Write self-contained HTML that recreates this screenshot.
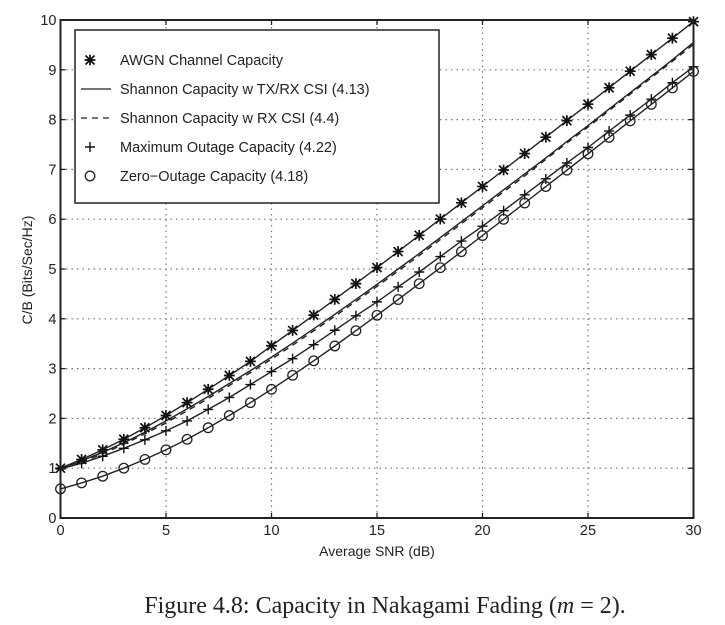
<!DOCTYPE html>
<html><head><meta charset="utf-8">
<style>
html,body{margin:0;padding:0;background:#fff;width:725px;height:625px;overflow:hidden}
svg{display:block}
text{font-family:"Liberation Sans",sans-serif;fill:#222}
</style></head>
<body>
<svg id="chart" width="725" height="625">
<g id="grid"></g>
<g id="series"></g>
<g id="axes"></g>
<text x="377" y="556" font-size="14" text-anchor="middle">Average SNR (dB)</text>
<text transform="translate(32,270) rotate(-90)" font-size="14" text-anchor="middle">C/B (Bits/Sec/Hz)</text>
<text x="385" y="613" font-size="24" text-anchor="middle" style="font-family:'Liberation Serif',serif">Figure 4.8: Capacity in Nakagami Fading (<tspan font-style="italic">m</tspan> = 2).</text>
<g id="legend">
<rect x="75" y="30" width="364" height="173" fill="#fff" stroke="#222" stroke-width="1.5"/>
<g><text x="120" y="65" font-size="14.5">AWGN Channel Capacity</text></g>
<g><line x1="81" y1="89" x2="111" y2="89" stroke="#222" stroke-width="1.3"/><text x="120" y="94" font-size="14.5">Shannon Capacity w TX/RX CSI (4.13)</text></g>
<g><line x1="81" y1="118" x2="111" y2="118" stroke="#222" stroke-width="1.3" stroke-dasharray="6,5"/><text x="120" y="123" font-size="14.5">Shannon Capacity w RX CSI (4.4)</text></g>
<g><text x="120" y="152" font-size="14.5">Maximum Outage Capacity (4.22)</text></g>
<g><text x="120" y="181" font-size="14.5">Zero−Outage Capacity (4.18)</text></g>
</g>
</svg>
<script>
const snrDb = [0,1,2,3,4,5,6,7,8,9,10,11,12,13,14,15,16,17,18,19,20,21,22,23,24,25,26,27,28,29,30];
const awgn = [1.00,1.176,1.369,1.581,1.812,2.058,2.317,2.585,2.862,3.145,3.459,3.766,4.074,4.390,4.707,5.027,5.350,5.676,6.003,6.329,6.658,6.988,7.318,7.647,7.979,8.309,8.640,8.972,9.304,9.635,9.967];
const txrx = [1.00,1.15,1.32,1.51,1.72,1.95,2.19,2.44,2.70,2.96,3.23,3.51,3.80,4.09,4.39,4.69,5.00,5.31,5.63,5.95,6.27,6.59,6.91,7.23,7.56,7.88,8.21,8.54,8.87,9.20,9.55];
const rx = [0.97,1.12,1.29,1.48,1.69,1.91,2.15,2.40,2.66,2.92,3.19,3.47,3.76,4.05,4.35,4.65,4.96,5.27,5.59,5.91,6.23,6.55,6.87,7.20,7.53,7.85,8.18,8.51,8.84,9.17,9.51];
const maxOut = [0.985,1.10,1.24,1.40,1.57,1.75,1.95,2.18,2.42,2.68,2.94,3.20,3.48,3.77,4.06,4.34,4.64,4.94,5.25,5.56,5.86,6.17,6.49,6.81,7.13,7.44,7.77,8.09,8.41,8.74,9.06];
const zeroOut = [0.585,0.705,0.839,1.0,1.176,1.369,1.580,1.812,2.058,2.316,2.585,2.866,3.156,3.454,3.761,4.071,4.386,4.705,5.026,5.348,5.672,5.998,6.325,6.655,6.984,7.313,7.643,7.974,8.305,8.636,8.967];
const xTicks = [0,5,10,15,20,25,30];
const yTicks = [0,1,2,3,4,5,6,7,8,9,10];

const NS='http://www.w3.org/2000/svg';
const X0=60.5,X1=693.5,Y0=518,Y1=20;
const sx=v=>X0+(v-0)/(30-0)*(X1-X0);
const sy=v=>Y0-(v-0)/(10-0)*(Y0-Y1);
function mk(tag,attrs,parent){const e=document.createElementNS(NS,tag);for(const k in attrs)e.setAttribute(k,attrs[k]);parent.appendChild(e);return e;}
const grid=document.getElementById('grid'),axes=document.getElementById('axes'),ser=document.getElementById('series');
xTicks.forEach(t=>{
  const x=sx(t);
  if(t>0&&t<30){const g=mk('line',{x1:x,y1:Y0,x2:x,y2:Y1,stroke:'#777','stroke-width':1.2,'stroke-dasharray':'1.5,4'},grid);
  
  }
  mk('line',{x1:x,y1:Y0,x2:x,y2:Y0-5,stroke:'#222','stroke-width':1.3},axes);
  mk('line',{x1:x,y1:Y1,x2:x,y2:Y1+5,stroke:'#222','stroke-width':1.3},axes);
  const tx=mk('text',{x:x,y:Y0+17,'font-size':14.5,'text-anchor':'middle'},axes);tx.textContent=t;
  
  
});
yTicks.forEach(t=>{
  const y=sy(t);
  if(t>0&&t<10){const g=mk('line',{x1:X0,y1:y,x2:X1,y2:y,stroke:'#777','stroke-width':1.2,'stroke-dasharray':'1.5,4'},grid);
  
  }
  mk('line',{x1:X0,y1:y,x2:X0+5,y2:y,stroke:'#222','stroke-width':1.3},axes);
  mk('line',{x1:X1,y1:y,x2:X1-5,y2:y,stroke:'#222','stroke-width':1.3},axes);
  const tx=mk('text',{x:X0-4,y:y+5,'font-size':14.5,'text-anchor':'end'},axes);tx.textContent=t;
  
  
});
const frame=mk('rect',{x:X0,y:Y1,width:X1-X0,height:Y0-Y1,fill:'none',stroke:'#222','stroke-width':2},axes);



function line(vals,dash,name){
  const d=vals.map((v,i)=>(i?'L':'M')+sx(snrDb[i]).toFixed(1)+','+sy(v).toFixed(1)).join('');
  const p=mk('path',{d:d,fill:'none',stroke:'#222','stroke-width':1.4},ser);
  if(dash)p.setAttribute('stroke-dasharray',dash);
  
  
}
function star(x,y,p){const r=4.5;mk('path',{d:`M${x-r},${y-r}L${x+r},${y+r}M${x-r},${y+r}L${x+r},${y-r}M${x-r*1.2},${y}L${x+r*1.2},${y}M${x},${y-r*1.2}L${x},${y+r*1.2}`,stroke:'#111','stroke-width':1.7},p);mk('circle',{cx:x,cy:y,r:2.5,fill:'#111'},p);}
function plus(x,y,p){const r=5;mk('path',{d:`M${x-r},${y}L${x+r},${y}M${x},${y-r}L${x},${y+r}`,stroke:'#111','stroke-width':1.4},p);}
function circ(x,y,p){mk('circle',{cx:x,cy:y,r:4.8,fill:'none',stroke:'#222','stroke-width':1.3},p);}
function markers(vals,fn,name){
  const g=mk('g',{},ser);
  
  
  vals.forEach((v,i)=>fn(sx(snrDb[i]),sy(v),g));
}
line(awgn,null,'awgn-line');
line(txrx,null,'txrx-csi-line');
line(rx,'6,5','rx-csi-line');
line(maxOut,null,'max-outage-line');
line(zeroOut,null,'zero-outage-line');
markers(awgn,star,'awgn-markers');
markers(maxOut,plus,'max-outage-markers');
markers(zeroOut,circ,'zero-outage-markers');
const lg=document.getElementById('legend');
star(90,60,lg);plus(90,147,lg);circ(90,176,lg);
</script>
</body></html>
